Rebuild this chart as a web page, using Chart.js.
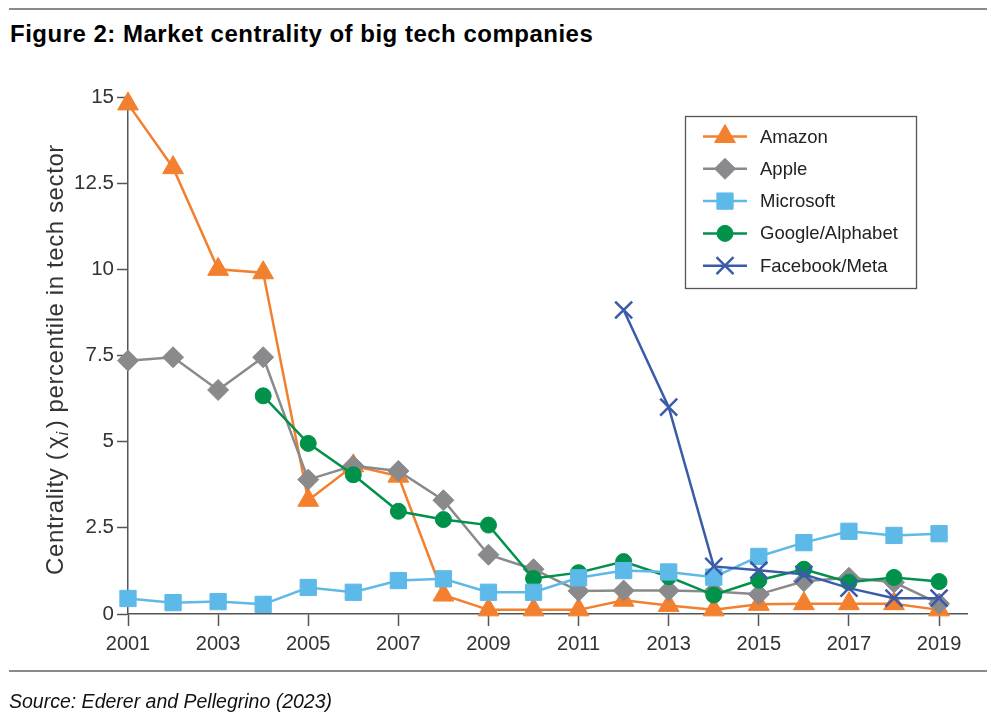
<!DOCTYPE html>
<html>
<head>
<meta charset="utf-8">
<script src="https://cdn.jsdelivr.net/npm/chart.js@4.4.1/dist/chart.umd.min.js"></script>
<style>
  body { margin: 0; background: #fff; font-family: "Liberation Sans", Arial, sans-serif; }
  #wrap { position: relative; width: 990px; height: 723px; overflow: hidden; }
  #chart { position: absolute; left: 0; top: 0; }
  .rule { position: absolute; left: 9px; width: 978px; height: 2px; background: #8a8a8a; }
  #title { position: absolute; left: 10px; top: 22px; line-height: 24px; font-size: 24px; font-weight: bold; letter-spacing: 0.5px; color: #000; white-space: nowrap; }
  #source { position: absolute; left: 9px; top: 691px; line-height: 20px; font-size: 19.5px; font-style: italic; color: #111; white-space: nowrap; }
</style>
</head>
<body>
<div id="wrap">
  <div class="rule" style="top:8px"></div>
  <div id="title">Figure 2: Market centrality of big tech companies</div>
  <canvas id="chart" width="990" height="723"></canvas>
  <div class="rule" style="top:670px"></div>
  <div id="source">Source: Ederer and Pellegrino (2023)</div>
</div>
<script>
const years = [2001, 2002, 2003, 2004, 2005, 2006, 2007, 2008, 2009, 2010,
               2011, 2012, 2013, 2014, 2015, 2016, 2017, 2018, 2019];

const amazon    = [14.8, 12.95, 10.0, 9.9, 3.3, 4.3, 4.0, 0.55, 0.12, 0.12,
                   0.12, 0.4, 0.25, 0.12, 0.28, 0.3, 0.3, 0.3, 0.12];
const apple     = [7.35, 7.45, 6.5, 7.45, 3.9, 4.3, 4.15, 3.3, 1.72, 1.3,
                   0.67, 0.68, 0.68, 0.65, 0.57, 0.95, 1.05, 0.92, 0.3];
const microsoft = [0.45, 0.33, 0.36, 0.28, 0.77, 0.63, 0.97, 1.02, 0.63, 0.63,
                   1.05, 1.26, 1.22, 1.07, 1.67, 2.07, 2.4, 2.28, 2.33];
const google    = [null, null, null, 6.33, 4.95, 4.04, 2.98, 2.74, 2.58, 1.03,
                   1.2, 1.52, 1.08, 0.55, 0.98, 1.3, 0.92, 1.06, 0.94];
const facebook  = [null, null, null, null, null, null, null, null, null, null,
                   null, 8.82, 6.0, 1.38, 1.27, 1.15, 0.75, 0.46, 0.46];

const xTicks = [2001, 2003, 2005, 2007, 2009, 2011, 2013, 2015, 2017, 2019];
const yTicks = [0, 2.5, 5, 7.5, 10, 12.5, 15];

const FONT = '"Liberation Sans", Arial, sans-serif';
const AXIS = '#555';

const toPoints = (vals) => years.map((yr, i) => ({ x: yr, y: vals[i] })).filter(p => p.y !== null);

function series(label, vals, color, style, radius, bw, order) {
  return {
    label,
    data: toPoints(vals),
    borderColor: color,
    backgroundColor: color,
    borderWidth: 2.5,
    pointStyle: style,
    pointRadius: radius,
    pointHoverRadius: radius,
    pointBorderWidth: bw,
    pointBorderColor: color,
    pointBackgroundColor: color,
    order,
    clip: false,
    tension: 0
  };
}

// draws the boxed legend (line + marker) top right
const boxLegend = {
  id: 'boxLegend',
  afterDraw(chart) {
    const ctx = chart.ctx;
    ctx.save();
    ctx.strokeStyle = AXIS;
    ctx.lineWidth = 1.3;
    ctx.strokeRect(685.5, 116.5, 231, 172);
    chart.data.datasets.forEach((ds, i) => {
      const y = 136.5 + i * 32.3;
      ctx.strokeStyle = ds.borderColor;
      ctx.lineWidth = 2.5;
      ctx.beginPath();
      ctx.moveTo(703, y);
      ctx.lineTo(747, y);
      ctx.stroke();
      ctx.fillStyle = ds.backgroundColor;
      ctx.lineWidth = ds.pointBorderWidth;
      Chart.helpers.drawPoint(ctx, {
        pointStyle: ds.pointStyle,
        radius: ds.pointRadius,
        rotation: 0,
        borderWidth: ds.pointBorderWidth
      }, 725, y);
      ctx.fillStyle = '#222';
      ctx.font = '18.5px ' + FONT;
      ctx.textBaseline = 'middle';
      ctx.textAlign = 'left';
      ctx.fillText(ds.label, 760, y + 1);
    });
    ctx.restore();
  }
};

// y axis title with subscript i
const yTitle = {
  id: 'yTitle',
  afterDraw(chart) {
    const ctx = chart.ctx;
    const big = '24px ' + FONT;
    const sub = 'italic 16px ' + FONT;
    const parts = [
      { t: 'Centrality (', f: big, dy: 0, gap: 3 },
      { t: '\u03C7', f: big, dy: 0, gap: 0 },
      { t: 'i', f: sub, dy: 5, gap: 3 },
      { t: ') percentile in tech sector', f: big, dy: 0, gap: 0 }
    ];
    ctx.save();
    ctx.fillStyle = '#333';
    ctx.letterSpacing = '0.6px';
    let total = 0;
    parts.forEach(p => { ctx.font = p.f; p.w = ctx.measureText(p.t).width; total += p.w + p.gap; });
    ctx.translate(63, 359.5);
    ctx.rotate(-Math.PI / 2);
    ctx.textBaseline = 'alphabetic';
    ctx.textAlign = 'left';
    let x = -total / 2;
    parts.forEach(p => {
      ctx.font = p.f;
      ctx.fillText(p.t, x, p.dy);
      x += p.w + p.gap;
    });
    ctx.restore();
  }
};

new Chart(document.getElementById('chart'), {
  type: 'line',
  data: {
    datasets: [
      series('Amazon', amazon, '#F2802E', 'triangle', 12, 1, 5),
      series('Apple', apple, '#8A8A8C', 'rectRot', 10.5, 1, 4),
      series('Microsoft', microsoft, '#5DB9E8', 'rect', 11.5, 1, 2),
      series('Google/Alphabet', google, '#00924A', 'circle', 8, 1, 3),
      series('Facebook/Meta', facebook, '#3A5BAA', 'crossRot', 12, 2.5, 1)
    ]
  },
  options: {
    responsive: false,
    animation: false,
    layout: { padding: { left: 0, top: 97, right: 23, bottom: 69 } },
    plugins: {
      legend: { display: false },
      tooltip: { enabled: false },
      title: { display: false }
    },
    scales: {
      x: {
        type: 'linear',
        min: 2001,
        max: 2019.62,
        afterBuildTicks: (s) => { s.ticks = xTicks.map(v => ({ value: v })); },
        afterFit: (s) => { s.height = 40; },
        grid: { drawOnChartArea: false, drawTicks: true, tickLength: 12, tickWidth: 1.5, tickColor: AXIS },
        border: { display: true, color: AXIS, width: 1.5 },
        ticks: {
          padding: 6,
          maxRotation: 0,
          autoSkip: false,
          color: '#333',
          font: { family: FONT, size: 20 },
          callback: (v) => String(v)
        }
      },
      y: {
        type: 'linear',
        min: 0,
        max: 15,
        afterBuildTicks: (s) => { s.ticks = yTicks.map(v => ({ value: v })); },
        afterFit: (s) => { s.width = 128; },
        grid: { drawOnChartArea: false, drawTicks: true, tickLength: 11, tickWidth: 1.5, tickColor: AXIS },
        border: { display: true, color: AXIS, width: 1.5 },
        ticks: {
          padding: 3,
          color: '#333',
          font: { family: FONT, size: 20.5 },
          callback: (v) => String(v)
        }
      }
    }
  },
  plugins: [boxLegend, yTitle]
});
</script>
</body>
</html>
